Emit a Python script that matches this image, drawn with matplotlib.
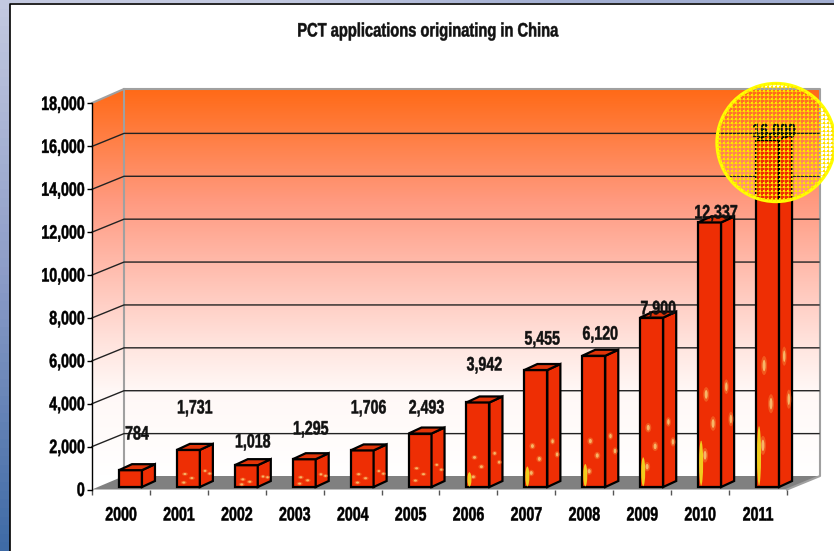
# -*- coding: utf-8 -*-
"""PCT applications originating in China: pseudo-3D column chart, saved to out.png"""
import numpy as np
import matplotlib
matplotlib.use("Agg")
import matplotlib.pyplot as plt
from matplotlib.colors import LinearSegmentedColormap
from matplotlib.patches import Circle, Ellipse, Polygon
from matplotlib.patheffects import AbstractPathEffect
from matplotlib.transforms import Affine2D

plt.rcParams["font.family"] = ["Liberation Sans", "DejaVu Sans"]
plt.rcParams["font.weight"] = "bold"

W, H = 834, 551

YEARS = ["2000", "2001", "2002", "2003", "2004", "2005",
         "2006", "2007", "2008", "2009", "2010", "2011"]
VALUES = [784, 1731, 1018, 1295, 1706, 2493, 3942, 5455, 6120, 7900, 12337, 16184]
VALUE_LABELS = ["784", "1,731", "1,018", "1,295", "1,706", "2,493",
                "3,942", "5,455", "6,120", "7,900", "12,337", "16,000"]
# label height on the y scale
LABEL_Y = [2540, 3755, 2170, 2775, 3755, 3755, 5760, 6970, 7200, 8380, 12850, 16650]
YTICKS = list(range(0, 18001, 2000))

# pixel sizes of the fake depth
PX_X = 695 / 12
PX_Y = 386 / 18000
WALL_DX, WALL_DY = 32, 13
FRONT_DX, FRONT_DY = 9.5, 2.5
BAR_DX, BAR_DY = 13, 6
BAR_W = 23
RED = "#ee2e04"
FONT = 14


class Squeeze(AbstractPathEffect):
    """Narrow a text horizontally, the reference uses a condensed Arial."""

    def __init__(self, sx=0.73, anchor=0.5):
        self.sx = sx
        self.anchor = anchor

    def draw_path(self, renderer, gc, tpath, affine, rgbFace=None):
        ext = tpath.get_extents()
        cx = ext.x0 + self.anchor * ext.width
        squeeze = Affine2D().translate(-cx, 0).scale(self.sx, 1).translate(cx, 0)
        gc0 = renderer.new_gc()
        gc0.copy_properties(gc)
        gc0.set_linewidth(0.35)
        gc0.set_foreground(rgbFace)
        renderer.draw_path(gc0, tpath, squeeze + affine, rgbFace)
        gc0.restore()


fig = plt.figure(figsize=(W / 100, H / 100), dpi=100, facecolor="white")

# background layer in pixels
bg = fig.add_axes([0, 0, 1, 1], zorder=0)
bg.axis("off")
edge = LinearSegmentedColormap.from_list("edge", ["#c3c9e0", "#8c9cc8", "#3f6ba6"])
bg.imshow(np.linspace(0, 1, 64)[:, None], cmap=edge, extent=(0, 10, H, 0), aspect="auto", vmin=0, vmax=1)
bg.imshow(np.array([[0.0, 0.3]]), cmap=edge, extent=(0, W, 3, 0), aspect="auto", vmin=0, vmax=1)
bg.plot([10.5, 10.5, W], [H, 3.5, 3.5], color="black", lw=1.2)

wall = LinearSegmentedColormap.from_list(
    "wall", [(0, "#ff6a17"), (0.29, "#ff9a80"), (0.44, "#ffb8a8"), (0.56, "#ffd0c6"),
             (0.66, "#ffe4de"), (0.78, "#fff8f6"), (1, "#ffffff")])
grad = np.linspace(0, 1, 256)[:, None]
bg.imshow(grad, cmap=wall, extent=(124, 820, 476, 89), aspect="auto")
side = bg.imshow(grad, cmap=wall, extent=(92, 124, 476, 89), aspect="auto")
side_clip = Polygon([(92, 103), (124, 89), (124, 476), (92, 489)], transform=bg.transData, fc="none", ec="none")
bg.add_patch(side_clip)
side.set_clip_path(side_clip)
side2 = bg.imshow(np.ones((2, 2)), cmap="gray", vmin=0, vmax=1, extent=(92, 124, 489, 476), aspect="auto")
side2.set_clip_path(side_clip)
bg.add_patch(Polygon([(92, 489.5), (124, 476), (820, 476), (787, 489.5)], fc="#808080", ec="none"))
bg.plot([92, 124, 820, 820, 787], [103, 89, 89, 476, 489.5], color="#a0a0a0", lw=1.5)
bg.plot([124, 124], [89, 476], color="#a0a0a0", lw=1.5)
bg.set_xlim(0, W)
bg.set_ylim(H, 0)

# chart layer: the front plane of the box
ax = fig.add_axes([92 / W, (H - 489.5) / H, 695 / W, 386 / H], zorder=1)
ax.patch.set_alpha(0)
ax.set_xlim(-0.5, 11.5)
ax.set_ylim(0, 18000)
for name in ["top", "right", "bottom"]:
    ax.spines[name].set_visible(False)
ax.spines["left"].set_linewidth(1.0)

ax.set_yticks(YTICKS)
ax.set_yticklabels([f"{v:,}" for v in YTICKS], fontsize=FONT)
ax.tick_params(axis="y", length=3.6, width=1.0, pad=1.5)
for t in ax.get_yticklabels():
    t.set_path_effects([Squeeze(anchor=1.0)])
ax.set_xticks(np.arange(12))
ax.set_xticklabels(YEARS, fontsize=FONT)
ax.tick_params(axis="x", which="major", length=0, pad=13)
for t in ax.get_xticklabels():
    t.set_path_effects([Squeeze()])
ax.set_xticks(np.arange(-0.5, 12), minor=True)
ax.tick_params(axis="x", which="minor", length=3.6, width=1.0, color="#555555")

wall_dx = WALL_DX / PX_X
wall_dy = WALL_DY / PX_Y
for v in YTICKS[1:-1]:
    ax.plot([-0.5, -0.5 + wall_dx, 11.5 + wall_dx], [v, v + wall_dy, v + wall_dy],
            color="#222222", lw=1.0, clip_on=False, zorder=1)

front_dx = FRONT_DX / PX_X
base = FRONT_DY / PX_Y
bar_w = BAR_W / PX_X
bar_dx = BAR_DX / PX_X
bar_dy = BAR_DY / PX_Y
x_pos = np.arange(12) + front_dx


def spot(x, y, w_px, h, col, alpha):
    ax.add_patch(Ellipse((x, y), w_px / PX_X, h, fc=col, ec="none", alpha=alpha, clip_on=False, zorder=4))


ax.bar(x_pos, VALUES, width=bar_w, bottom=base, color=RED, edgecolor="black",
       linewidth=1.6, clip_on=False, zorder=3)
for x, v in zip(x_pos, VALUES):
    l, r = x - bar_w / 2, x + bar_w / 2
    top = base + v
    ax.add_patch(Polygon([(r, base), (r + bar_dx, base + bar_dy), (r + bar_dx, top + bar_dy), (r, top)],
                         fc=RED, ec="black", lw=1.6, clip_on=False, zorder=3))
    ax.add_patch(Polygon([(l, top), (l + bar_dx, top + bar_dy), (r + bar_dx, top + bar_dy), (r, top)],
                         fc="#e23408", ec="black", lw=1.6, clip_on=False, zorder=3))

    # the flame texture is stretched with the bar, so the spots scale with its height
    if v < 1000:
        continue
    tall = max(v * 0.055, 3.5 / PX_Y)
    for fx, fh in [(0.35, 0.35), (0.65, 0.24), (0.3, 0.12)]:
        spot(l + fx * bar_w, base + fh * v, 6, tall, "#f46a28", 0.7)
        spot(l + fx * bar_w, base + fh * v, 3, tall * 0.6, "#f8c070", 0.9)
    for fx, fh in [(0.4, 0.37), (0.75, 0.24)]:
        sx = r + fx * bar_dx
        sy = base + fh * v + fx * bar_dy
        spot(sx, sy, 5, tall, "#f46a28", 0.7)
        spot(sx, sy, 2.5, tall * 0.6, "#f8c070", 0.9)
    if v > 3000:
        spot(l + 0.13 * bar_w, base + 0.09 * v, 4, 0.17 * v, "#f2e020", 0.9)

for x, y, s in zip(np.arange(12) + (WALL_DX / 2) / PX_X, LABEL_Y, VALUE_LABELS):
    ax.text(x, y, s, ha="center", va="center", fontsize=FONT, color="#111111", zorder=5, clip_on=False,
            path_effects=[Squeeze()])

fig.text(428 / W, 1 - 32 / H, "PCT applications originating in China", ha="center", va="center",
         fontsize=FONT, color="#111111", path_effects=[Squeeze(0.755)])

# highlight circle on top of everything
over = fig.add_axes([0, 0, 1, 1], zorder=2)
over.axis("off")
over.patch.set_alpha(0)
ring = Circle((776, 142.5), 59, fc="none", ec="#ffff00", lw=2.4, clip_on=False)
over.add_patch(ring)
grid_x = np.arange(716, W, 4) + 0.5
grid_y = np.arange(82, 204, 4) + 0.5
v_lines = over.vlines(grid_x, 82, 204, color="#ffd800", lw=0.72, alpha=0.55, antialiased=False)
h_lines = over.hlines(grid_y, 716, W, color="#ffd800", lw=0.72, alpha=0.55, antialiased=False)
gx, gy = np.meshgrid(grid_x, grid_y)
dots = over.scatter(gx.ravel(), gy.ravel(), s=2.2, marker="s", color="#ffee00", lw=0)
for art in (v_lines, h_lines, dots):
    art.set_clip_path(ring)
over.set_xlim(0, W)
over.set_ylim(H, 0)

fig.savefig("out.png", dpi=100)
